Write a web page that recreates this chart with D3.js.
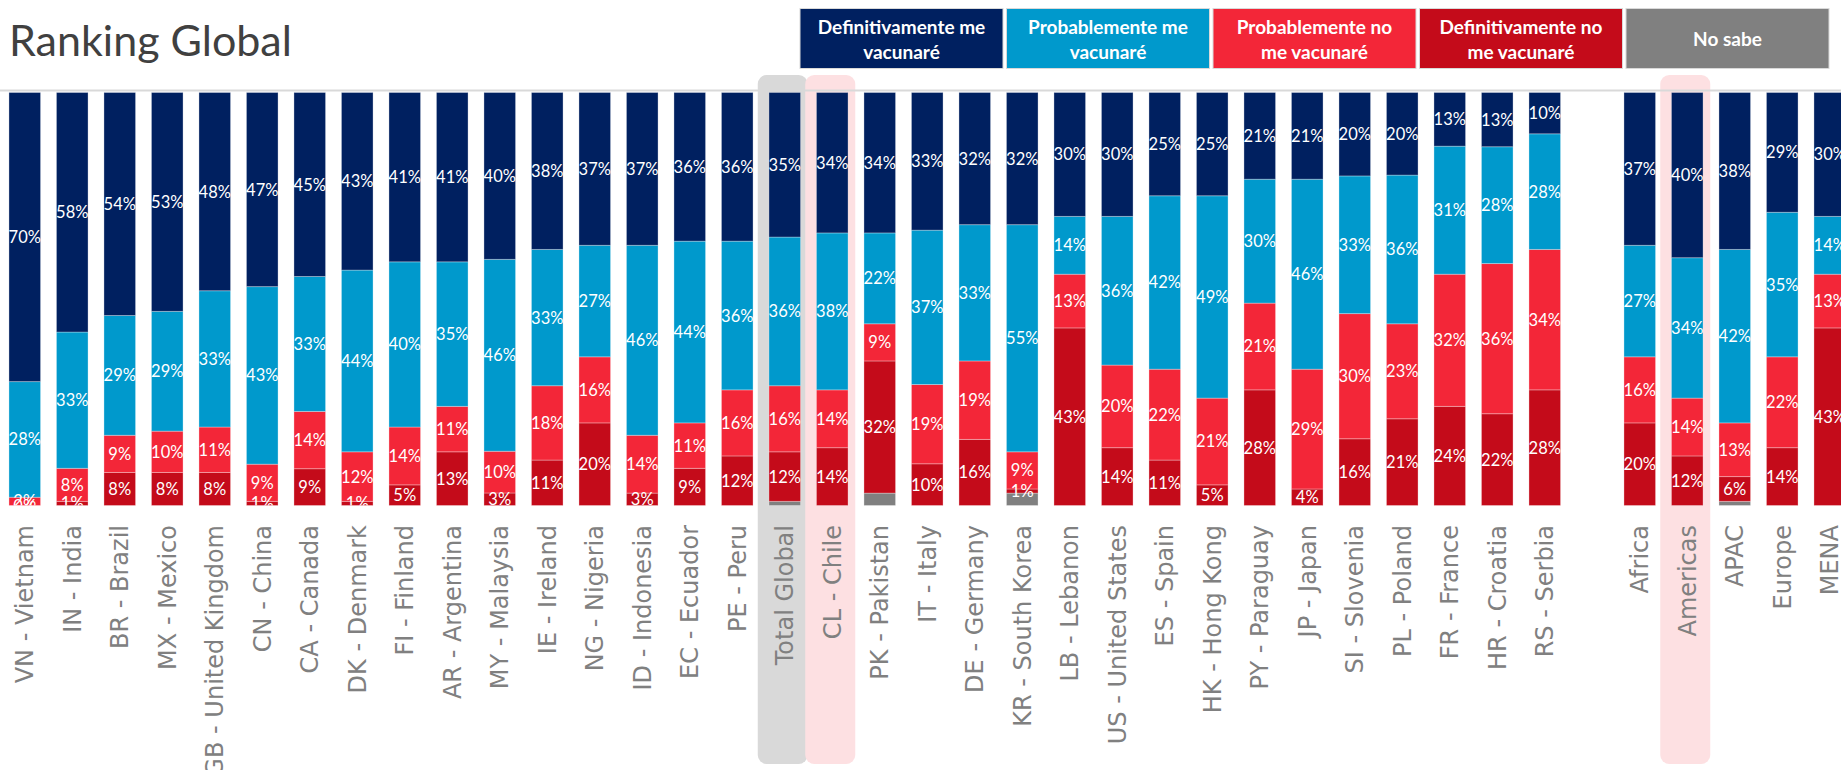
<!DOCTYPE html>
<html>
<head>
<meta charset="utf-8">
<script src="https://cdn.jsdelivr.net/npm/d3@7"></script>
<style>
  html, body { margin: 0; padding: 0; background: #ffffff; }
  svg { display: block; }
</style>
</head>
<body>
<svg id="chart" width="1841" height="770"></svg>
<script>
// ---------------- DATA ----------------
const categories = ["VN - Vietnam","IN - India","BR - Brazil","MX - Mexico","GB - United Kingdom","CN - China",
  "CA - Canada","DK - Denmark","FI - Finland","AR - Argentina","MY - Malaysia","IE - Ireland","NG - Nigeria",
  "ID - Indonesia","EC - Ecuador","PE - Peru","Total Global","CL - Chile","PK - Pakistan","IT - Italy",
  "DE - Germany","KR - South Korea","LB - Lebanon","US - United States","ES - Spain","HK - Hong Kong",
  "PY - Paraguay","JP - Japan","SI - Slovenia","PL - Poland","FR - France","HR - Croatia","RS - Serbia"];
const regions = ["Africa","Americas","APAC","Europe","MENA"];

const seriesKeys = ["defYes","probYes","probNo","defNo","noSabe"];
const seriesLabels = [
  ["Definitivamente me", "vacunaré"],
  ["Probablemente me", "vacunaré"],
  ["Probablemente no", "me vacunaré"],
  ["Definitivamente no", "me vacunaré"],
  ["No sabe"]
];
// values in order: categories then regions
const defYes  = [70,58,54,53,48,47,45,43,41,41,40,38,37,37,36,36,35,34,34,33,32,32,30,30,25,25,21,21,20,20,13,13,10, 37,40,38,29,30];
const probYes = [28,33,29,29,33,43,33,44,40,35,46,33,27,46,44,36,36,38,22,37,33,55,14,36,42,49,30,46,33,36,31,28,28, 27,34,42,35,14];
const probNo  = [ 2, 8, 9,10,11, 9,14,12,14,11,10,18,16,14,11,16,16,14, 9,19,19, 9,13,20,22,21,21,29,30,23,32,36,34, 16,14,13,22,13];
const defNo   = [ 0, 1, 8, 8, 8, 1, 9, 1, 5,13, 3,11,20, 3, 9,12,12,14,32,10,16, 1,43,14,11, 5,28, 4,16,21,24,22,28, 20,12, 6,14,43];
const noSabe  = [ 0, 0, 0, 0, 0, 0, 0, 0, 0, 0, 0, 0, 0, 0, 0, 0, 1, 0, 3, 0, 0, 3, 0, 0, 0, 0, 0, 0, 0, 0, 0, 0, 0,  0, 0, 1, 0, 0];

const highlighted = [
  { cat: "Total Global", fill: "#d9d9d9" },
  { cat: "CL - Chile", fill: "#fde0e2" },
  { cat: "Americas", fill: "#fde0e2" }
];
const colors = { defYes: "#002060", probYes: "#0099cc", probNo: "#f32638", defNo: "#c40b1a", noSabe: "#808080" };

// ---------------- BUILD ----------------
const GAP = "__gap__";
const allCats = categories.concat(regions);
const domain = categories.concat([GAP], regions);
const rows = allCats.map((c, i) => ({
  cat: c, defYes: defYes[i], probYes: probYes[i], probNo: probNo[i], defNo: defNo[i], noSabe: noSabe[i]
}));

const svg = d3.select("#chart");
const W = 1841, H = 770;
const plotTop = 92.5, plotBottom = 505.5;

const x = d3.scaleBand().domain(domain).range([1, 1 + domain.length * 47.5])
  .paddingInner(0.335).paddingOuter(0.1675);
const y = d3.scaleLinear().domain([0, 1]).range([plotBottom, plotTop]);

// stack bottom to top: noSabe, defNo, probNo, probYes, defYes
const stack = d3.stack().keys(["noSabe","defNo","probNo","probYes","defYes"]).offset(d3.stackOffsetExpand);
const stacked = stack(rows);

// Title
svg.append("text").attr("x", 9).attr("y", 56)
  .attr("font-family", "Lato, 'Open Sans', sans-serif").attr("font-size", 43)
  .attr("fill", "#404040").text("Ranking Global");

// Legend
const legend = svg.append("g");
seriesKeys.forEach((k, i) => {
  const bx = 800 + i * 206.5;
  const g = legend.append("g");
  g.append("rect").attr("x", bx).attr("y", 8.5).attr("width", 203).attr("height", 60)
    .attr("fill", colors[k]).attr("stroke", "#d9d9d9").attr("stroke-width", 1);
  const lines = seriesLabels[i];
  const baselines = lines.length === 2 ? [34, 59] : [46];
  lines.forEach((ln, j) => {
    g.append("text").attr("x", bx + 101.5).attr("y", baselines[j])
      .attr("text-anchor", "middle").attr("font-family", "Lato, 'Open Sans', sans-serif")
      .attr("font-weight", "bold").attr("font-size", 19).attr("fill", "#ffffff").text(ln);
  });
});

// Highlights
svg.append("g").selectAll("rect").data(highlighted).join("rect")
  .attr("x", d => x(d.cat) + x.bandwidth() / 2 - 27)
  .attr("y", 75).attr("width", 50).attr("height", 689).attr("rx", 9)
  .attr("fill", d => d.fill);

// Top gridline
svg.append("line").attr("x1", 0).attr("x2", W).attr("y1", 90.5).attr("y2", 90.5)
  .attr("stroke", "#d9d9d9").attr("stroke-width", 2);

// Bars
const barsG = svg.append("g");
barsG.selectAll("g.series").data(stacked).join("g").attr("class", "series")
  .attr("fill", d => colors[d.key])
  .selectAll("rect").data(d => d).join("rect")
  .attr("x", d => x(d.data.cat))
  .attr("width", x.bandwidth())
  .attr("y", d => y(d[1]))
  .attr("height", d => Math.max(0, y(d[0]) - y(d[1])))
  .attr("stroke", "#ffffff").attr("stroke-opacity", 0.3).attr("stroke-width", 1);

// Labels (clipped to plot area)
svg.append("defs").append("clipPath").attr("id", "plotClip")
  .append("rect").attr("x", 0).attr("y", plotTop).attr("width", W).attr("height", plotBottom - plotTop);
const labG = svg.append("g").attr("clip-path", "url(#plotClip)");
stacked.filter(s => s.key !== "noSabe").forEach(s => {
  labG.append("g").selectAll("text").data(s).join("text")
    .attr("x", d => x(d.data.cat) + x.bandwidth() / 2)
    .attr("y", d => (y(d[0]) + y(d[1])) / 2)
    .attr("text-anchor", "middle").attr("dominant-baseline", "central")
    .attr("font-family", "Lato, 'Open Sans', sans-serif").attr("font-size", 16.5)
    .attr("fill", "#ffffff")
    .text(d => d.data[s.key] + "%");
});

// Axis labels
const axis = d3.axisBottom(x).tickValues(allCats).tickSize(0).tickPadding(0);
const axG = svg.append("g").attr("transform", "translate(0,525)").call(axis);
axG.select(".domain").remove();
axG.selectAll("text")
  .attr("transform", "rotate(-90)")
  .attr("x", 0).attr("y", 0).attr("dy", "0.36em")
  .attr("text-anchor", "end")
  .attr("font-family", "'DejaVu Sans', sans-serif").attr("font-size", 24)
  .attr("fill", "#808080");
</script>
</body>
</html>
